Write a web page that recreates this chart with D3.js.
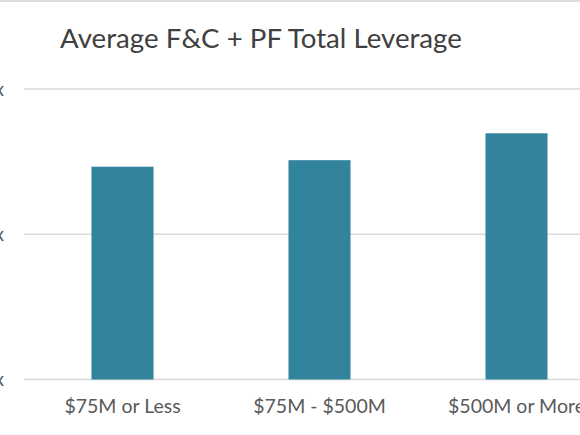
<!DOCTYPE html>
<html lang="en">
<head>
<meta charset="utf-8">
<title>Average F&amp;C + PF Total Leverage</title>
<script src="https://cdn.jsdelivr.net/npm/d3@7"></script>
<style>
	body { margin: 0; background: #fff; }
	svg { display: block; }
	.title { font-family: Lato, "Open Sans", sans-serif; fill: #404040; }
	.axis text { font-family: Lato, "Open Sans", sans-serif; fill: #595959; }
</style>
</head>
<body>
<div id="vizContainer"></div>
<script>
// data
var categories = ["$75M or Less", "$75M - $500M", "$500M or More"];
var leverage = [2.93, 3.02, 3.39];
var yTicks = [0, 2, 4];

var width = 580;
var height = 435;

var svg = d3.select("#vizContainer").append("svg")
	.attr("width", width)
	.attr("height", height);

// thin border left over at the top of the crop
svg.append("line")
	.attr("x1", 0).attr("x2", width)
	.attr("y1", 1).attr("y2", 1)
	.attr("stroke", "#dcdcdc")
	.attr("stroke-width", 2);

var x = d3.scaleBand()
	.domain(categories)
	.range([24, 615])
	.paddingInner(0.685)
	.paddingOuter(0.3425);

var y = d3.scaleLinear()
	.domain([0, 4])
	.range([379.5, 89]);

// gridlines
svg.append("g")
	.selectAll("line")
	.data(yTicks)
	.enter()
	.append("line")
	.attr("x1", 24)
	.attr("x2", width)
	.attr("y1", function(d){ return y(d); })
	.attr("y2", function(d){ return y(d); })
	.attr("stroke", "#d9d9d9")
	.attr("stroke-width", 1.5);

// y labels (mostly cut off at the left edge, as in the source)
var yAxis = svg.append("g")
	.attr("class", "axis")
	.attr("transform", "translate(4,0)")
	.call(d3.axisLeft(y).tickValues(yTicks).tickSize(0).tickPadding(0)
		.tickFormat(function(d){ return d3.format(".1f")(d) + "x"; }));
yAxis.select(".domain").remove();
yAxis.selectAll("text").attr("font-size", 19);

// bars
svg.append("g")
	.selectAll("rect")
	.data(leverage)
	.enter()
	.append("rect")
	.attr("x", function(d,i){ return x(categories[i]); })
	.attr("y", function(d){ return y(d); })
	.attr("width", x.bandwidth())
	.attr("height", function(d){ return y(0) - y(d); })
	.attr("fill", "#31849b");

// category labels
var xAxis = svg.append("g")
	.attr("class", "axis")
	.attr("transform", "translate(0," + y(0) + ")")
	.call(d3.axisBottom(x).tickSize(0).tickPadding(20));
xAxis.select(".domain").remove();
xAxis.selectAll("text").attr("font-size", 19.5);

// title
svg.append("text")
	.attr("class", "title")
	.attr("x", 261)
	.attr("y", 48)
	.attr("text-anchor", "middle")
	.attr("font-size", 27.7)
	.text("Average F&C + PF Total Leverage");
</script>
</body>
</html>
